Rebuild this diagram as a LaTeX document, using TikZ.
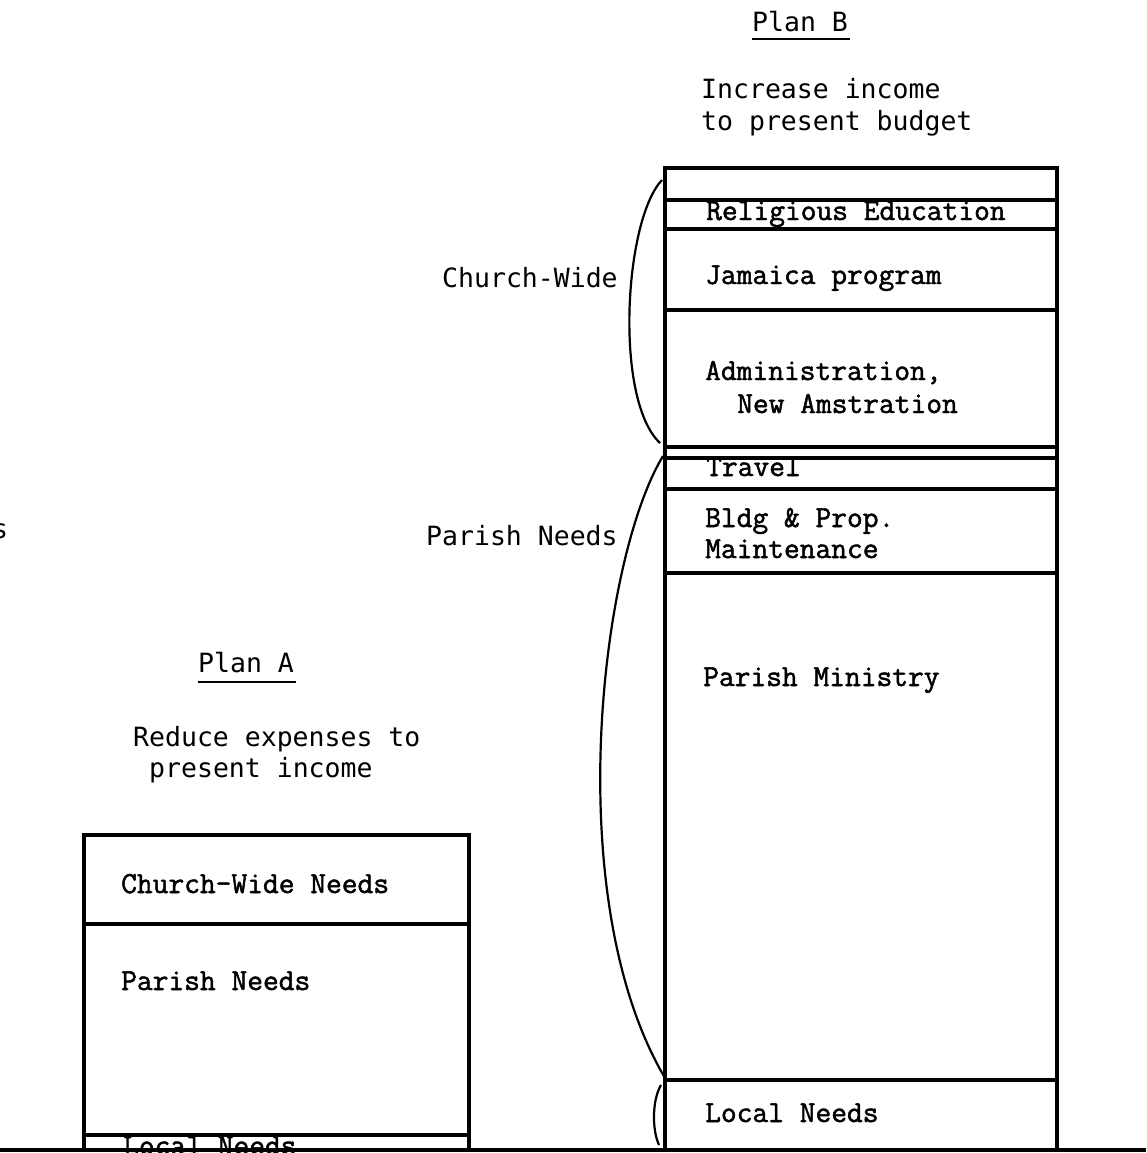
\documentclass[tikz,border=0pt]{standalone}
\usepackage{fontspec}
\setmonofont{Latin Modern Mono}[FakeBold=1.6]
\newfontfamily\gothic{DejaVu Sans Mono}
\begin{document}
\begin{tikzpicture}[x=1pt,y=-1pt,
  boxline/.style={line width=3.4pt},
  bracel/.style={line width=2.2pt},
  ctext/.style={anchor=base west,inner sep=0pt,font=\ttfamily\fontsize{30.6}{34}\selectfont},
  gtext/.style={anchor=base west,inner sep=0pt,font=\gothic\fontsize{26.5}{30}\selectfont},
  uline/.style={line width=1.8pt}]
\useasboundingbox (0,0) rectangle (1146,1153);
\fill[white] (0,0) rectangle (1146,1153);

% ---------- Plan B headings ----------
\node[gtext] (planB) at (752,32) {Plan B};
\draw[uline] (planB.base west)++(0,7) coordinate (pbu1) -- ++(98,0) coordinate (pbu2);
\node[gtext] (incr1) at (701,99) {Increase income};
\node[gtext] (incr2) at (701,131) {to present budget};

% ---------- Plan B box ----------
\draw[boxline] (665,168) rectangle (1057,1150);
\foreach \yy in {200,229,310,447,458,489,573,1080}
  \draw[boxline] (665,\yy) -- (1057,\yy);

\node[ctext] (relig) at (706,220) {Religious Education};
\node[ctext] (jam) at (705,284) {Jamaica program};
\node[ctext] (adm1) at (705,380) {Administration,};
\node[ctext] (adm2) at (737,413) {New Amstration};
\node[ctext] (trav) at (706,476) {Travel};
\node[ctext] (bldg1) at (705,527) {Bldg \& Prop.};
\node[ctext] (bldg2) at (705,558) {Maintenance};
\node[ctext] (parmin) at (703,686) {Parish Ministry};
\node[ctext] (locB) at (705,1122) {Local Needs};

% ---------- braces ----------
\node[gtext] (cw) at (442,287) {Church-Wide};
\node[gtext] (pn) at (426,545) {Parish Needs};
\coordinate (cwTop) at (662,180);
\coordinate (cwBot) at (660,443);
\coordinate (pnTop) at (663,456);
\coordinate (pnBot) at (665,1078);
\coordinate (lnTop) at (661,1085);
\coordinate (lnBot) at (659,1145);
\draw[bracel] (cwTop) .. controls (624,220) and (614,400) .. (cwBot);
\draw[bracel] (pnTop) .. controls (600,560) and (560,900) .. (pnBot);
\draw[bracel] (lnTop) .. controls (652,1100) and (652,1130) .. (lnBot);

% ---------- Plan A headings ----------
\node[gtext] (planA) at (198,672) {Plan A};
\draw[uline] (planA.base west)++(0,10) coordinate (pau1) -- ++(98,0) coordinate (pau2);
\node[gtext] (red1) at (133,746) {Reduce expenses to};
\node[gtext] (red2) at (149,777) {present income};

% ---------- Plan A box ----------
\node[ctext] (cwn) at (121,893) {Church-Wide Needs};
\node[ctext] (pna) at (121,990) {Parish Needs};
\node[ctext] (locA) at (123,1155) {Local Needs};
\draw[boxline] (84,835) rectangle (469,1150);
\draw[boxline] (84,924) -- (469,924);
\draw[boxline] (84,1135) -- (469,1135);

% ---------- base line ----------
\draw[boxline] (0,1150) -- (1146,1150);

% ---------- cut-off letter at left edge ----------
\node[gtext] (edge) at (-8,538) {s};
\end{tikzpicture}
\end{document}
